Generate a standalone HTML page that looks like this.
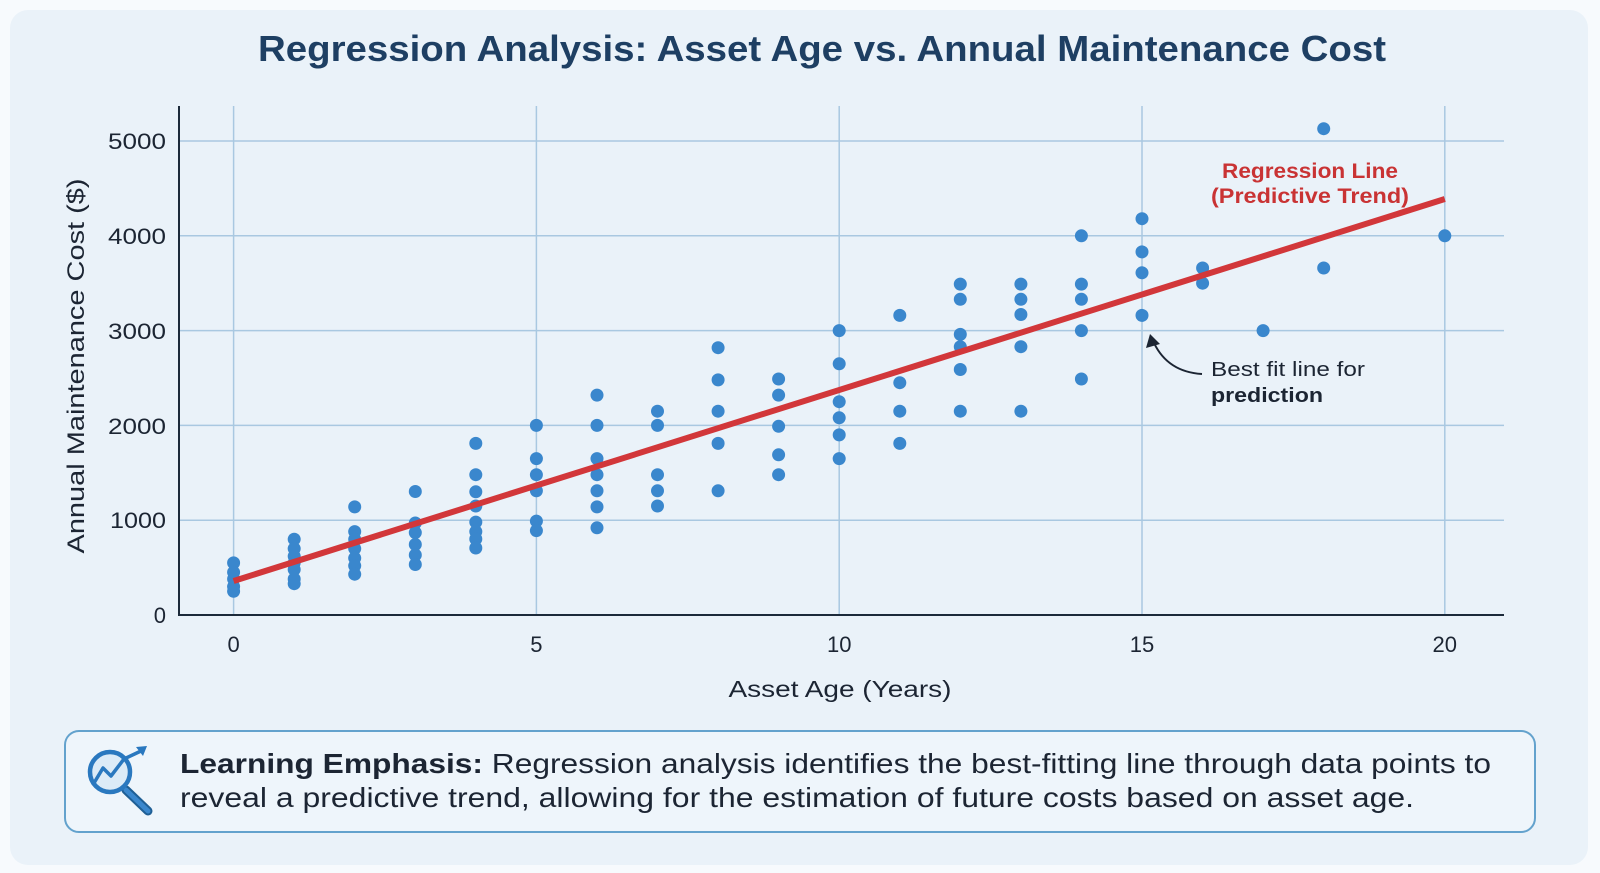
<!DOCTYPE html>
<html>
<head>
<meta charset="utf-8">
<style>
html,body{margin:0;padding:0;background:#f7fafd;}
svg{display:block;}
text{font-family:"Liberation Sans","DejaVu Sans",sans-serif;}
</style>
</head>
<body>
<svg width="1600" height="873" viewBox="0 0 1600 873" xmlns="http://www.w3.org/2000/svg">
  <rect x="0" y="0" width="1600" height="873" fill="#f7fafd"/>
  <rect x="10" y="10" width="1578" height="855" rx="18" fill="#eaf2f9"/>

  <!-- Title -->
  <text x="822" y="61" text-anchor="middle" font-size="36" font-weight="bold" fill="#1e3f63" textLength="1128" lengthAdjust="spacingAndGlyphs">Regression Analysis: Asset Age vs. Annual Maintenance Cost</text>

  <!-- Grid -->
  <g stroke="#a9c8e1" stroke-width="1.5">
    <line x1="233.6" y1="106" x2="233.6" y2="615"/>
    <line x1="536.4" y1="106" x2="536.4" y2="615"/>
    <line x1="839.2" y1="106" x2="839.2" y2="615"/>
    <line x1="1142" y1="106" x2="1142" y2="615"/>
    <line x1="1444.8" y1="106" x2="1444.8" y2="615"/>
    <line x1="179" y1="520.2" x2="1504" y2="520.2"/>
    <line x1="179" y1="425.4" x2="1504" y2="425.4"/>
    <line x1="179" y1="330.6" x2="1504" y2="330.6"/>
    <line x1="179" y1="235.8" x2="1504" y2="235.8"/>
    <line x1="179" y1="141" x2="1504" y2="141"/>
  </g>

  <!-- Axes -->
  <line x1="179" y1="106" x2="179" y2="616" stroke="#1c2a3a" stroke-width="2"/>
  <line x1="178" y1="615" x2="1504" y2="615" stroke="#1c2a3a" stroke-width="2"/>

  <!-- Y tick labels -->
  <g font-size="22" fill="#1c2533" text-anchor="end">
    <text x="166" y="149" textLength="58" lengthAdjust="spacingAndGlyphs">5000</text>
    <text x="166" y="244" textLength="58" lengthAdjust="spacingAndGlyphs">4000</text>
    <text x="166" y="339" textLength="58" lengthAdjust="spacingAndGlyphs">3000</text>
    <text x="166" y="434" textLength="58" lengthAdjust="spacingAndGlyphs">2000</text>
    <text x="166" y="528" textLength="56" lengthAdjust="spacingAndGlyphs">1000</text>
    <text x="166" y="623">0</text>
  </g>
  <!-- X tick labels -->
  <g font-size="22" fill="#1c2533" text-anchor="middle">
    <text x="233.6" y="652">0</text>
    <text x="536.4" y="652">5</text>
    <text x="839.2" y="652">10</text>
    <text x="1142" y="652">15</text>
    <text x="1444.8" y="652">20</text>
  </g>

  <!-- Axis titles -->
  <text x="840" y="697" text-anchor="middle" font-size="23" fill="#1c2533" textLength="223" lengthAdjust="spacingAndGlyphs">Asset Age (Years)</text>
  <text transform="translate(84,366) rotate(-90)" x="0" y="0" text-anchor="middle" font-size="24" fill="#1c2533" textLength="375" lengthAdjust="spacingAndGlyphs">Annual Maintenance Cost ($)</text>

  <!-- Data points -->
  <g fill="#3a87cd">
    <circle cx="233.6" cy="562.9" r="6.5"/><circle cx="233.6" cy="572.3" r="6.5"/><circle cx="233.6" cy="579" r="6.5"/><circle cx="233.6" cy="586.6" r="6.5"/><circle cx="233.6" cy="591.3" r="6.5"/>
    <circle cx="294.2" cy="539.2" r="6.5"/><circle cx="294.2" cy="548.6" r="6.5"/><circle cx="294.2" cy="556.2" r="6.5"/><circle cx="294.2" cy="562.9" r="6.5"/><circle cx="294.2" cy="569.5" r="6.5"/><circle cx="294.2" cy="579" r="6.5"/><circle cx="294.2" cy="583.7" r="6.5"/>
    <circle cx="354.7" cy="506.9" r="6.5"/><circle cx="354.7" cy="531.6" r="6.5"/><circle cx="354.7" cy="539.2" r="6.5"/><circle cx="354.7" cy="548.6" r="6.5"/><circle cx="354.7" cy="558.1" r="6.5"/><circle cx="354.7" cy="565.7" r="6.5"/><circle cx="354.7" cy="574.2" r="6.5"/>
    <circle cx="415.3" cy="491.5" r="6.5"/><circle cx="415.3" cy="523" r="6.5"/><circle cx="415.3" cy="532.6" r="6.5"/><circle cx="415.3" cy="544.5" r="6.5"/><circle cx="415.3" cy="555" r="6.5"/><circle cx="415.3" cy="564.5" r="6.5"/>
    <circle cx="475.8" cy="443.4" r="6.5"/><circle cx="475.8" cy="474.7" r="6.5"/><circle cx="475.8" cy="491.8" r="6.5"/><circle cx="475.8" cy="506" r="6.5"/><circle cx="475.8" cy="522.1" r="6.5"/><circle cx="475.8" cy="531.6" r="6.5"/><circle cx="475.8" cy="539" r="6.5"/><circle cx="475.8" cy="548" r="6.5"/>
    <circle cx="536.4" cy="425.4" r="6.5"/><circle cx="536.4" cy="458.6" r="6.5"/><circle cx="536.4" cy="474.7" r="6.5"/><circle cx="536.4" cy="490.8" r="6.5"/><circle cx="536.4" cy="521.1" r="6.5"/><circle cx="536.4" cy="530.6" r="6.5"/>
    <circle cx="597" cy="395.1" r="6.5"/><circle cx="597" cy="425.4" r="6.5"/><circle cx="597" cy="458.6" r="6.5"/><circle cx="597" cy="474.7" r="6.5"/><circle cx="597" cy="490.8" r="6.5"/><circle cx="597" cy="506.9" r="6.5"/><circle cx="597" cy="527.8" r="6.5"/>
    <circle cx="657.5" cy="411.2" r="6.5"/><circle cx="657.5" cy="425.4" r="6.5"/><circle cx="657.5" cy="474.7" r="6.5"/><circle cx="657.5" cy="490.8" r="6.5"/><circle cx="657.5" cy="506" r="6.5"/>
    <circle cx="718.1" cy="347.7" r="6.5"/><circle cx="718.1" cy="379.9" r="6.5"/><circle cx="718.1" cy="411.2" r="6.5"/><circle cx="718.1" cy="443.4" r="6.5"/><circle cx="718.1" cy="490.8" r="6.5"/>
    <circle cx="778.6" cy="379" r="6.5"/><circle cx="778.6" cy="395.1" r="6.5"/><circle cx="778.6" cy="426.3" r="6.5"/><circle cx="778.6" cy="454.8" r="6.5"/><circle cx="778.6" cy="474.7" r="6.5"/>
    <circle cx="839.2" cy="330.6" r="6.5"/><circle cx="839.2" cy="363.8" r="6.5"/><circle cx="839.2" cy="401.7" r="6.5"/><circle cx="839.2" cy="417.8" r="6.5"/><circle cx="839.2" cy="434.9" r="6.5"/><circle cx="839.2" cy="458.6" r="6.5"/>
    <circle cx="899.8" cy="315.4" r="6.5"/><circle cx="899.8" cy="382.7" r="6.5"/><circle cx="899.8" cy="411.2" r="6.5"/><circle cx="899.8" cy="443.4" r="6.5"/>
    <circle cx="960.3" cy="284.1" r="6.5"/><circle cx="960.3" cy="299.3" r="6.5"/><circle cx="960.3" cy="334.4" r="6.5"/><circle cx="960.3" cy="346.7" r="6.5"/><circle cx="960.3" cy="369.5" r="6.5"/><circle cx="960.3" cy="411.2" r="6.5"/>
    <circle cx="1020.9" cy="284.1" r="6.5"/><circle cx="1020.9" cy="299.3" r="6.5"/><circle cx="1020.9" cy="314.5" r="6.5"/><circle cx="1020.9" cy="346.7" r="6.5"/><circle cx="1020.9" cy="411.2" r="6.5"/>
    <circle cx="1081.4" cy="235.8" r="6.5"/><circle cx="1081.4" cy="284.1" r="6.5"/><circle cx="1081.4" cy="299.3" r="6.5"/><circle cx="1081.4" cy="330.6" r="6.5"/><circle cx="1081.4" cy="379" r="6.5"/>
    <circle cx="1142" cy="218.7" r="6.5"/><circle cx="1142" cy="251.9" r="6.5"/><circle cx="1142" cy="272.8" r="6.5"/><circle cx="1142" cy="315.4" r="6.5"/>
    <circle cx="1202.6" cy="268" r="6.5"/><circle cx="1202.6" cy="283.2" r="6.5"/>
    <circle cx="1263.1" cy="330.6" r="6.5"/>
    <circle cx="1323.7" cy="128.7" r="6.5"/><circle cx="1323.7" cy="268" r="6.5"/>
    <circle cx="1444.8" cy="235.8" r="6.5"/>
  </g>

  <!-- Regression line -->
  <line x1="233.6" y1="581" x2="1444.8" y2="199" stroke="#d2373a" stroke-width="6" stroke-linecap="butt"/>

  <!-- Regression label -->
  <g font-size="21" fill="#c93334" text-anchor="middle" font-weight="bold">
    <text x="1310" y="178" textLength="176" lengthAdjust="spacingAndGlyphs">Regression Line</text>
    <text x="1310" y="203" textLength="198" lengthAdjust="spacingAndGlyphs">(Predictive Trend)</text>
  </g>

  <!-- Annotation -->
  <path d="M1202,374 Q1168,372 1154,343" fill="none" stroke="#1c2533" stroke-width="2"/>
  <polygon points="1150,334 1146,348 1160,344" fill="#1c2533"/>
  <text x="1211" y="376" font-size="20" fill="#1c2533" textLength="154" lengthAdjust="spacingAndGlyphs">Best fit line for</text>
  <text x="1211" y="402" font-size="20" font-weight="bold" fill="#1c2533" textLength="112" lengthAdjust="spacingAndGlyphs">prediction</text>

  <!-- Learning box -->
  <rect x="65" y="731" width="1470" height="101" rx="14" fill="#eef5fb" stroke="#63a2cd" stroke-width="2"/>

  <!-- Icon -->
  <g>
    <line x1="126" y1="790" x2="148" y2="811" stroke="#1f5f95" stroke-width="9" stroke-linecap="round"/>
    <line x1="126" y1="790" x2="148" y2="811" stroke="#3a87cd" stroke-width="5" stroke-linecap="round"/>
    <circle cx="110" cy="772" r="20" fill="#dcebf7" stroke="#2a78bf" stroke-width="4.5"/>
    <polyline points="94,783 103,768 111,776 124,759 141,751" fill="none" stroke="#2a78bf" stroke-width="3.5" stroke-linejoin="round" stroke-linecap="round"/>
    <polygon points="147,746 136,747 143,756" fill="#2a78bf"/>
  </g>

  <!-- Box text -->
  <g font-size="28" fill="#1c2533">
    <text x="180" y="773" textLength="1311" lengthAdjust="spacingAndGlyphs"><tspan font-weight="bold">Learning Emphasis:</tspan> Regression analysis identifies the best-fitting line through data points to</text>
    <text x="180" y="807" textLength="1234" lengthAdjust="spacingAndGlyphs">reveal a predictive trend, allowing for the estimation of future costs based on asset age.</text>
  </g>
</svg>
</body>
</html>
